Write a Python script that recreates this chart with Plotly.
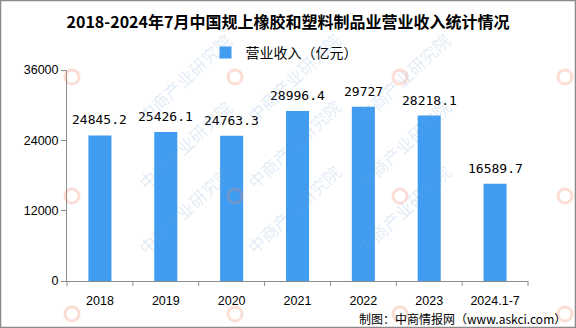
import plotly.graph_objects as go

# Revenue of above-scale rubber & plastic products industry (100 million yuan)
categories = ["2018", "2019", "2020", "2021", "2022", "2023", "2024.1-7"]
revenue = [24845.2, 25426.1, 24763.3, 28996.4, 29727, 28218.1, 16589.7]
revenue_labels = ["24845.2", "25426.1", "24763.3", "28996.4", "29727", "28218.1", "16589.7"]
y_ticks = [0, 12000, 24000, 36000]

W, H = 576, 328
ML, MR, MT, MB = 67, 48, 70, 47
PW, PH = W - ML - MR, H - MT - MB

BAR_COLOR = "#3F9CF1"
AXIS_COLOR = "#8c8c8c"
NUM_FONT = "DejaVu Sans Mono"
CJK_FONT = "Noto Sans CJK SC"

positions = list(range(len(categories)))
x_range = [-0.5, len(categories) - 0.5]


def px_x(x):
    return (x - ML) / PW


def px_y(y):
    return (H - MB - y) / PH


def data_to_paper_x(v):
    return (v - x_range[0]) / (x_range[1] - x_range[0])


fig = go.Figure()
fig.add_trace(go.Bar(
    x=positions,
    y=revenue,
    name="营业收入（亿元）",
    width=0.35,
    marker=dict(color=BAR_COLOR, line=dict(width=0)),
    hoverinfo="skip",
))

annotations = []
shapes = []

# value labels above each bar
for pos, val, lab in zip(positions, revenue, revenue_labels):
    annotations.append(dict(
        x=pos, y=val, xref="x", yref="y", text=lab, showarrow=False,
        yanchor="bottom", yshift=6,
        font=dict(family=NUM_FONT, size=13, color="#000000"),
    ))

# tick marks on the category boundaries of the x axis
for b in [p - 0.5 for p in positions] + [positions[-1] + 0.5]:
    xb = data_to_paper_x(b)
    shapes.append(dict(
        type="line", xref="paper", yref="paper",
        x0=xb, x1=xb, y0=0, y1=-5 / PH,
        line=dict(color=AXIS_COLOR, width=1),
    ))

# tiled background watermark
wm_xs = [72, 235, 400, 565]
wm_ys = [77, 196, 314]
for lx in wm_xs:
    for ly in wm_ys:
        if lx < W - 40:
            annotations.append(dict(
                x=px_x(lx + 58), y=px_y(ly - 52), xref="paper", yref="paper",
                text="中商产业研究院", showarrow=False, textangle=-43,
                font=dict(family=CJK_FONT, size=17, color="rgba(120,165,220,0.22)"),
            ))
        r = 7
        shapes.append(dict(
            type="circle", xref="paper", yref="paper",
            x0=px_x(lx - r), x1=px_x(lx + r), y0=px_y(ly + r), y1=px_y(ly - r),
            line=dict(color="rgba(240,140,110,0.28)", width=3),
        ))

# source note
annotations.append(dict(
    x=px_x(568), y=px_y(318), xref="paper", yref="paper",
    text="制图：中商情报网（www.askci.com）", showarrow=False,
    xanchor="right", yanchor="middle",
    font=dict(family=CJK_FONT, size=12, color="#000000"),
))

# outer frame
shapes.append(dict(
    type="rect", xref="paper", yref="paper",
    x0=px_x(0.5), x1=px_x(W - 0.5), y0=px_y(H - 0.5), y1=px_y(0.5),
    line=dict(color="#8a8a8a", width=1.5),
))

fig.update_layout(
    width=W, height=H,
    margin=dict(l=ML, r=MR, t=MT, b=MB),
    paper_bgcolor="white", plot_bgcolor="white",
    title=dict(
        text="<b>2018-2024年7月中国规上橡胶和塑料制品业营业收入统计情况</b>",
        x=0.5, xanchor="center", y=1 - 22 / H, yanchor="middle",
        font=dict(family=CJK_FONT, size=16, color="#000000"),
    ),
    showlegend=True,
    legend=dict(
        orientation="h", x=px_x(284), xanchor="center",
        y=1 + 17 / PH, yanchor="middle",
        font=dict(family=CJK_FONT, size=14, color="#000000"),
        bgcolor="rgba(0,0,0,0)",
    ),
    xaxis=dict(
        range=x_range,
        tickvals=positions, ticktext=categories,
        showgrid=False, zeroline=False,
        showline=True, linecolor=AXIS_COLOR, linewidth=1,
        ticks="outside", ticklen=8, tickcolor="rgba(0,0,0,0)", tickangle=0,
        tickfont=dict(family="Liberation Sans", size=12.5, color="#000000"),
        fixedrange=True,
    ),
    yaxis=dict(
        range=[0, 36000], tickvals=y_ticks, ticktext=[str(v) for v in y_ticks],
        showgrid=False, zeroline=False,
        showline=True, linecolor=AXIS_COLOR, linewidth=1,
        ticks="outside", ticklen=5, tickcolor=AXIS_COLOR,
        tickfont=dict(family="Liberation Sans", size=12.5, color="#000000"),
        fixedrange=True,
    ),
    annotations=annotations,
    shapes=shapes,
)

fig.write_html("out.html", config={"displayModeBar": False})
